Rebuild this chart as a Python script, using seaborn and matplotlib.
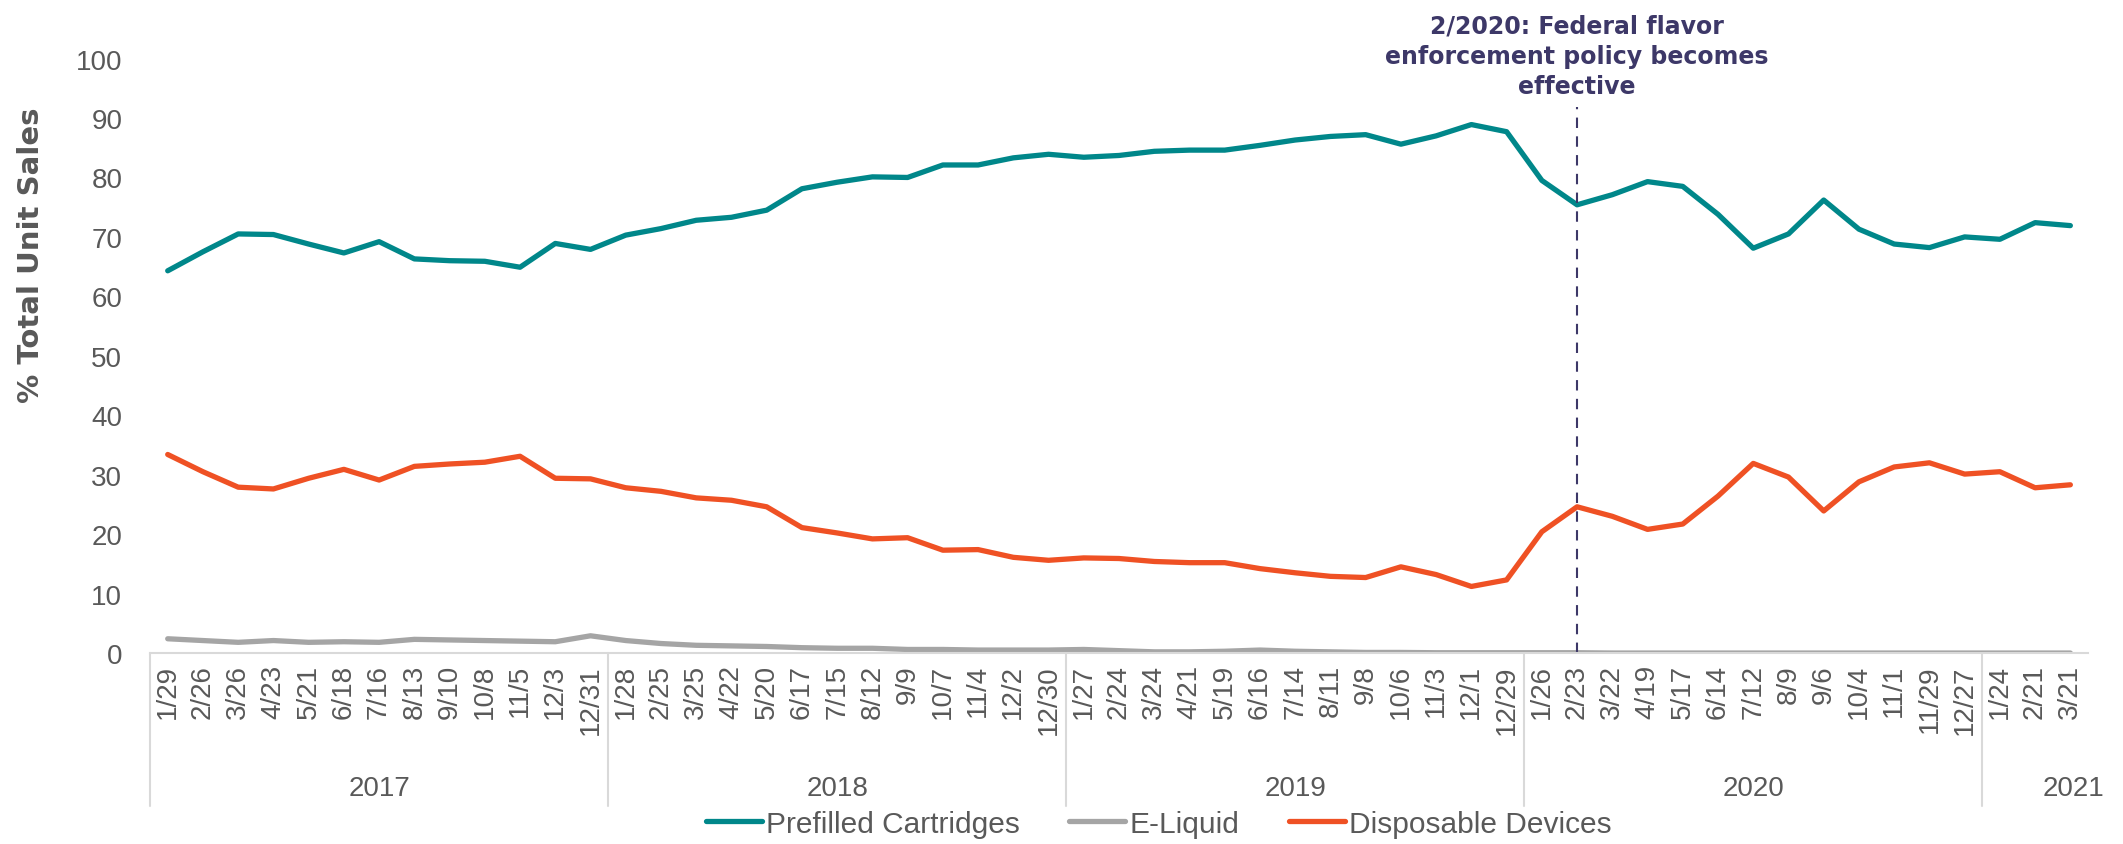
import pandas as pd
import seaborn as sns
from matplotlib import pyplot as plt
from matplotlib.lines import Line2D
import matplotlib.transforms as mtransforms

# 4-week periods, grouped by year
YEARS = ["2017", "2018", "2019", "2020", "2021"]
WEEKS = [
    ["1/29", "2/26", "3/26", "4/23", "5/21", "6/18", "7/16", "8/13", "9/10", "10/8", "11/5", "12/3", "12/31"],
    ["1/28", "2/25", "3/25", "4/22", "5/20", "6/17", "7/15", "8/12", "9/9", "10/7", "11/4", "12/2", "12/30"],
    ["1/27", "2/24", "3/24", "4/21", "5/19", "6/16", "7/14", "8/11", "9/8", "10/6", "11/3", "12/1", "12/29"],
    ["1/26", "2/23", "3/22", "4/19", "5/17", "6/14", "7/12", "8/9", "9/6", "10/4", "11/1", "11/29", "12/27"],
    ["1/24", "2/21", "3/21"],
]

prefilled = [64.3, 67.5, 70.5, 70.4, 68.8, 67.3, 69.2, 66.3, 66.0, 65.9, 64.9, 68.9, 67.9,
             70.3, 71.4, 72.8, 73.3, 74.5, 78.1, 79.2, 80.1, 80.0, 82.1, 82.1, 83.3, 83.9,
             83.4, 83.7, 84.4, 84.6, 84.6, 85.4, 86.3, 86.9, 87.2, 85.6, 87.0, 88.9, 87.7,
             79.5, 75.4, 77.1, 79.3, 78.5, 73.8, 68.1, 70.5, 76.2, 71.3, 68.8, 68.2, 70.0,
             69.6, 72.4, 71.9]
e_liquid = [2.4, 2.1, 1.8, 2.1, 1.8, 1.9, 1.8, 2.3, 2.2, 2.1, 2.0, 1.9, 2.9,
            2.1, 1.6, 1.3, 1.2, 1.1, 0.9, 0.8, 0.8, 0.6, 0.6, 0.5, 0.5, 0.5,
            0.6, 0.4, 0.2, 0.2, 0.3, 0.5, 0.3, 0.2, 0.1, 0.1, 0.05, 0.05, 0.05,
            0.05, 0.05, 0.0, 0.0, 0.0, 0.0, 0.0, 0.0, 0.0, 0.0, 0.0, 0.0, 0.0,
            0.0, 0.0, 0.0]
disposable = [33.4, 30.5, 27.9, 27.6, 29.4, 30.9, 29.1, 31.4, 31.8, 32.1, 33.1, 29.4, 29.3,
              27.8, 27.2, 26.1, 25.7, 24.6, 21.1, 20.2, 19.2, 19.4, 17.3, 17.4, 16.1, 15.6,
              16.0, 15.9, 15.4, 15.2, 15.2, 14.2, 13.5, 12.9, 12.7, 14.5, 13.2, 11.2, 12.3,
              20.4, 24.6, 23.0, 20.8, 21.7, 26.4, 31.9, 29.6, 23.9, 28.8, 31.3, 32.0, 30.1,
              30.5, 27.8, 28.3]

SERIES = ["Prefilled Cartridges", "E-Liquid", "Disposable Devices"]
COLORS = ["#00878A", "#A5A5A5", "#EF5124"]
EVENT_LABEL = "2/2020: Federal flavor\nenforcement policy becomes\neffective"
EVENT_WEEK = "2/23"

TEXT_GREY = "#595959"
PURPLE = "#3D3868"

labels = [w for ws in WEEKS for w in ws]
n = len(labels)
df = pd.concat([
    pd.DataFrame({"idx": range(n), "value": vals, "series": name})
    for name, vals in zip(SERIES, [prefilled, e_liquid, disposable])
])

sns.set_style("white")
plt.rcParams["font.family"] = ["Liberation Sans", "DejaVu Sans"]

fig = plt.figure(figsize=(21.23, 8.45), dpi=100)
ax = fig.add_axes([0.0707, 0.226, 0.9128, 0.7035])

sns.lineplot(data=df, x="idx", y="value", hue="series", hue_order=SERIES,
             palette=COLORS, linewidth=3.8, legend=False, ax=ax)

ax.set_xlim(-0.5, n - 0.5)
ax.set_ylim(0, 100)
ax.set_yticks(range(0, 101, 10))
ax.set_xticks(range(n))
ax.set_xticklabels(labels, rotation=90, fontsize=20, color=TEXT_GREY)
ax.tick_params(axis="y", labelsize=20, colors=TEXT_GREY, length=0, pad=20)
ax.tick_params(axis="x", length=0, pad=8)
for s in ["top", "right", "left"]:
    ax.spines[s].set_visible(False)
ax.spines["bottom"].set_color("#D9D9D9")
ax.spines["bottom"].set_linewidth(1.5)

ax.set_xlabel("")
ax.set_ylabel("% Total Unit Sales", fontsize=21, fontweight="bold", color=TEXT_GREY,
              family="DejaVu Sans")
ax.yaxis.set_label_coords(-0.054, 0.67)

# year groups under the axis
trans = mtransforms.blended_transform_factory(ax.transData, ax.transAxes)
start = 0
for i, (yr, ws) in enumerate(zip(YEARS, WEEKS)):
    end = start + len(ws)
    ax.plot([start - 0.5, start - 0.5], [0, -0.257], transform=trans,
            color="#D9D9D9", lw=1.5, clip_on=False)
    cx = (start + end - 1) / 2 if i < len(YEARS) - 1 else end - 0.9
    ax.text(cx, -0.227, yr, transform=trans, ha="center", va="center",
            fontsize=20, color=TEXT_GREY)
    start = end

# policy marker
ev = labels.index(EVENT_WEEK)
ax.axvline(ev, ymin=0, ymax=0.918, color=PURPLE, lw=1.5, ls=(0, (5, 4)))
ax.text(ev, 93.3, EVENT_LABEL, ha="center", va="bottom", fontsize=17,
        fontweight="bold", color=PURPLE, linespacing=1.35,
        family="DejaVu Sans", clip_on=False)

handles = [Line2D([0], [0], color=c, lw=3.8) for c in COLORS]
fig.legend(handles, SERIES, loc="center", bbox_to_anchor=(0.5457, 0.024), ncol=3,
           frameon=False, fontsize=21.5, handlelength=1.87, handletextpad=0.13,
           columnspacing=1.67, labelcolor=TEXT_GREY)

fig.savefig("out.png", dpi=100)
